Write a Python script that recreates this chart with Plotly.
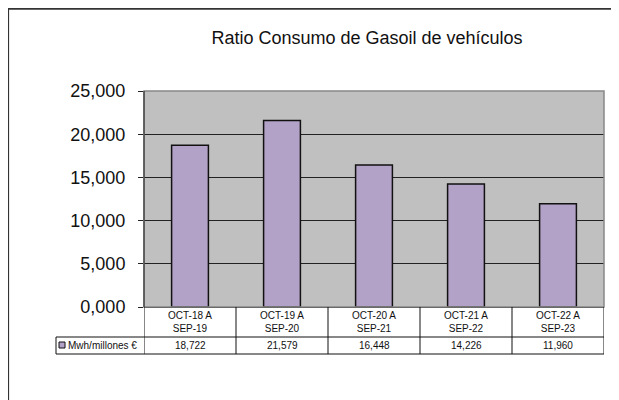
import plotly.graph_objects as go

# ---- data ----
categories = ["OCT-18 A<br>SEP-19", "OCT-19 A<br>SEP-20", "OCT-20 A<br>SEP-21",
              "OCT-21 A<br>SEP-22", "OCT-22 A<br>SEP-23"]
values = [18.722, 21.579, 16.448, 14.226, 11.960]
series_name = "Mwh/millones €"
tick_values = [0, 5, 10, 15, 20, 25]
tick_labels = ["0,000", "5,000", "10,000", "15,000", "20,000", "25,000"]
title_text = "Ratio Consumo de Gasoil de vehículos"

FONT = "Liberation Sans, Arial, Helvetica, sans-serif"
OFF = 8  # page body margin
W, H = 619 - OFF, 400 - OFF
# plot area in page pixels
PL, PR, PT, PB = 144, 604, 91, 307
L, R, T, B = PL - OFF, PR - OFF, PT - OFF, PB - OFF


def px(x):
    """page x pixel -> paper"""
    return (x - PL) / (PR - PL)


def py(y):
    """page y pixel -> paper"""
    return (PB - y) / (PB - PT)


def fmt(v):
    return f"{v:.3f}".replace(".", ",")


fig = go.Figure()
fig.add_trace(go.Bar(
    x=categories, y=values, name=series_name, width=0.4,
    marker=dict(color="#B3A2C7", line=dict(color="#111111", width=1.5)),
    showlegend=False, hoverinfo="x+y",
))

shapes = []
# outer frame (top and left edges visible)
shapes.append(dict(type="line", xref="paper", yref="paper", x0=px(8.5), x1=px(640),
                   y0=py(8.8), y1=py(8.8), line=dict(color="#333333", width=2)))
shapes.append(dict(type="line", xref="paper", yref="paper", x0=px(8.5), x1=px(8.5),
                   y0=py(8), y1=py(420), line=dict(color="#333333", width=1.2)))
# plot area border
shapes.append(dict(type="rect", xref="paper", yref="paper", x0=0, x1=1, y0=0, y1=1,
                   line=dict(color="#888888", width=1.5), layer="above"))
shapes.append(dict(type="line", xref="paper", yref="paper", x0=0, x1=0, y0=0, y1=1,
                   line=dict(color="#222222", width=1), layer="above"))
# table horizontal lines
for yy in (337, 354):
    shapes.append(dict(type="line", xref="paper", yref="paper", x0=px(56), x1=1,
                       y0=py(yy), y1=py(yy), line=dict(color="#111111", width=1)))
# table vertical lines (category boundaries)
for i in range(len(categories) + 1):
    shapes.append(dict(type="line", xref="x", yref="paper", x0=i - 0.5, x1=i - 0.5,
                       y0=0, y1=py(354), line=dict(color="#111111", width=1)))
# legend cell left border
shapes.append(dict(type="line", xref="paper", yref="paper", x0=px(56), x1=px(56),
                   y0=py(337), y1=py(354), line=dict(color="#111111", width=1)))
# legend swatch
shapes.append(dict(type="rect", xref="paper", yref="paper", x0=px(59), x1=px(65),
                   y0=py(348), y1=py(342), fillcolor="#B3A2C7",
                   line=dict(color="#111111", width=1)))

annotations = []
for c, v in zip(categories, values):
    annotations.append(dict(x=c, xref="x", y=py(321.5), yref="paper", text=c,
                            showarrow=False, xanchor="center", yanchor="middle",
                            font=dict(family=FONT, size=10, color="#111111")))
    annotations.append(dict(x=c, xref="x", y=py(345.5), yref="paper", text=fmt(v),
                            showarrow=False, xanchor="center", yanchor="middle",
                            font=dict(family=FONT, size=10, color="#111111")))
annotations.append(dict(x=px(65.5), xref="paper", y=py(345.5), yref="paper",
                        text=series_name, showarrow=False, xanchor="left",
                        yanchor="middle", font=dict(family=FONT, size=10, color="#111111")))

fig.update_layout(
    width=W, height=H,
    margin=dict(l=L, r=W - R, t=T, b=H - B, pad=0),
    paper_bgcolor="white", plot_bgcolor="#C0C0C0",
    title=dict(text=title_text, x=px(367), xref="paper", xanchor="center",
               y=1 - (38 - OFF) / H, yref="container", yanchor="middle",
               font=dict(family=FONT, size=18, color="#111111")),
    font=dict(family=FONT, color="#111111"),
    shapes=shapes, annotations=annotations,
    bargap=0.6, showlegend=False,
)
fig.update_xaxes(showticklabels=False, ticks="", showgrid=False, zeroline=False,
                 showline=True, linecolor="#111111", linewidth=1,
                 range=[-0.5, len(categories) - 0.5])
fig.update_yaxes(range=[0, 25], tickvals=tick_values, ticktext=tick_labels,
                 showgrid=True, gridcolor="#222222", gridwidth=1, zeroline=False,
                 ticks="outside", ticklen=5, tickcolor="#222222",
                 ticklabelstandoff=9,
                 tickfont=dict(family=FONT, size=18, color="#111111"),
                 showline=False)

fig.write_html("out.html")
